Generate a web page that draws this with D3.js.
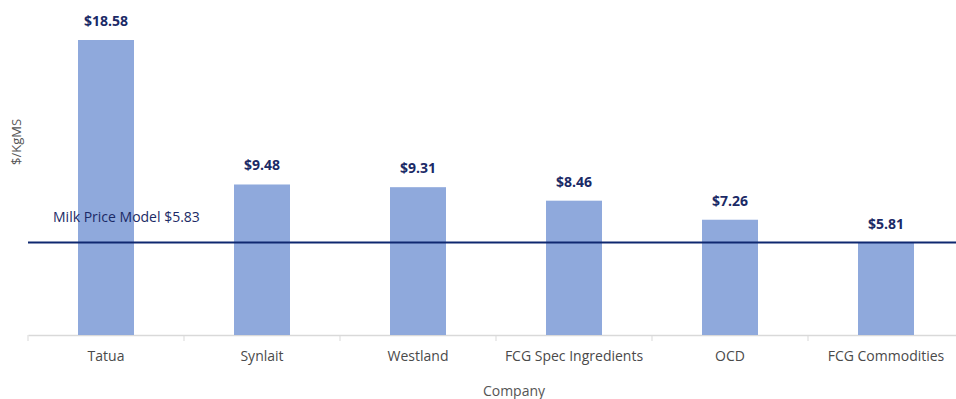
<!DOCTYPE html>
<html><head><meta charset="utf-8">
<script src="https://cdn.jsdelivr.net/npm/d3@7"></script>
<style>body{margin:0;background:#fff;} svg{display:block;font-family:"Open Sans",sans-serif;}</style>
</head><body>
<svg id="c" width="956" height="399"></svg>
<script>
const categories = ["Tatua","Synlait","Westland","FCG Spec Ingredients","OCD","FCG Commodities"];
const values = [18.58, 9.48, 9.31, 8.46, 7.26, 5.81];
const valueLabels = ["$18.58","$9.48","$9.31","$8.46","$7.26","$5.81"];
const milkPrice = 5.83;
const milkLabel = "Milk Price Model $5.83";
const yTitle = "$/KgMS";
const xTitle = "Company";

const svg = d3.select("#c");
const x = d3.scaleBand().domain(categories).range([28, 964]).paddingInner(0).paddingOuter(0);
const y = d3.scaleLinear().domain([0, 21.1]).range([335, 0]);
const barW = 56;

const xAxis = svg.append("g").attr("transform","translate(0,335)")
  .call(d3.axisBottom(x).tickSize(0).tickFormat(""));
xAxis.select(".domain").attr("stroke","#d9d9d9").attr("stroke-width",1.5);
// tick marks at band boundaries
svg.append("g").selectAll("line").data(categories).join("line")
  .attr("x1", d=>x(d)).attr("x2", d=>x(d)).attr("y1",335).attr("y2",341)
  .attr("stroke","#d9d9d9").attr("stroke-width",1);

svg.append("g").selectAll("rect").data(categories).join("rect")
  .attr("x", d=>x(d)+x.bandwidth()/2-barW/2)
  .attr("width", barW)
  .attr("y", (d,i)=>y(values[i]))
  .attr("height", (d,i)=>y(0)-y(values[i]))
  .attr("fill","#8fa9dc");

svg.append("g").selectAll("text").data(categories).join("text")
  .attr("x", d=>x(d)+x.bandwidth()/2)
  .attr("y", (d,i)=>y(values[i])-14)
  .attr("text-anchor","middle")
  .attr("font-size",14).attr("font-weight","bold").attr("fill","#1b2a66")
  .text((d,i)=>valueLabels[i]);

svg.append("g").selectAll("text").data(categories).join("text")
  .attr("x", d=>x(d)+x.bandwidth()/2)
  .attr("y", 361)
  .attr("text-anchor","middle")
  .attr("font-size",14).attr("fill","#4a4a4a")
  .text(d=>d);

svg.append("line").attr("x1",28).attr("x2",956)
  .attr("y1",y(milkPrice)).attr("y2",y(milkPrice))
  .attr("stroke","#0f2870").attr("stroke-width",2);
svg.append("text").attr("x",53).attr("y",y(milkPrice)-20)
  .attr("font-size",14).attr("fill","#1b2a66").text(milkLabel);

svg.append("text").attr("transform","translate(21,142) rotate(-90)")
  .attr("text-anchor","middle").attr("font-size",13).attr("fill","#555").text(yTitle);
svg.append("text").attr("x",514).attr("y",396)
  .attr("text-anchor","middle").attr("font-size",14).attr("fill","#555").text(xTitle);
</script>
</body></html>
